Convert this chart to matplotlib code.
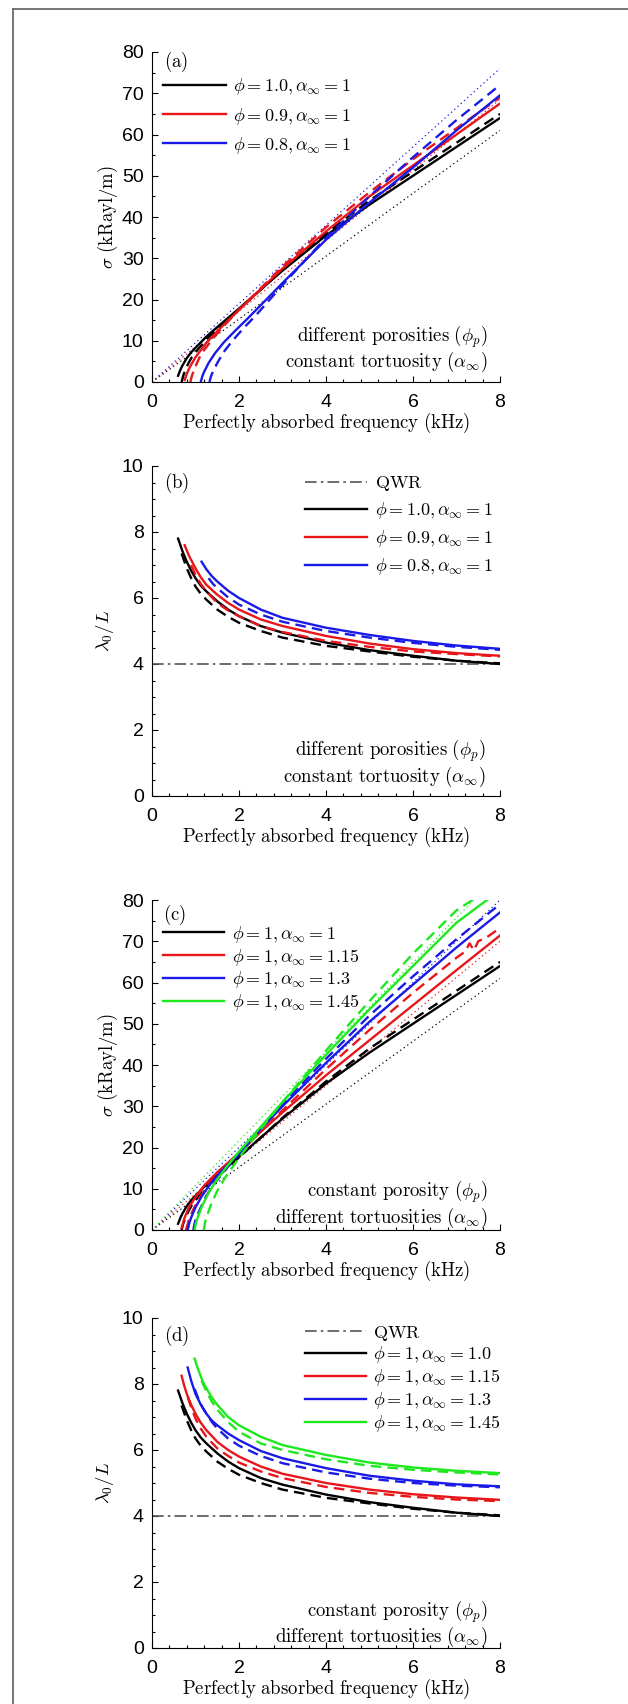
import matplotlib.pyplot as plt
from matplotlib.lines import Line2D
from matplotlib.ticker import MultipleLocator

plt.rcParams['mathtext.fontset'] = 'cm'
plt.rcParams['font.family'] = 'Liberation Sans'

# ---------- data ----------
# (a) sigma vs frequency, different porosities
a_k_f = [0.6, 0.65, 0.7, 0.8, 0.9, 1.0, 1.25, 1.5, 2, 3, 4, 5, 6, 7, 8]
a_k_s = [1.5, 2.9, 4.0, 5.8, 7.2, 8.3, 11, 13.3, 17.8, 27, 35.5, 43, 50, 57, 64]
a_kd_f = [0.68, 0.72, 0.78, 0.85, 0.92, 1.0, 1.25, 1.5, 2, 3, 4, 5, 6, 7, 8]
a_kd_s = [0, 1.6, 3.3, 4.8, 6.1, 7.2, 10.3, 12.8, 17.6, 27.2, 36, 44, 51, 58, 65]
a_r_f = [0.75, 0.8, 0.85, 0.9, 1.0, 1.1, 1.25, 1.5, 2, 3, 4, 5, 6, 7, 8]
a_r_s = [0.5, 2.0, 3.2, 4.2, 6.0, 7.4, 9.5, 12.3, 17.5, 27.5, 36.5, 45, 52.5, 60, 67.5]
a_rd_f = [0.88, 0.92, 0.98, 1.05, 1.12, 1.2, 1.4, 1.6, 2, 3, 4, 5, 6, 7, 8]
a_rd_s = [0, 1.6, 3.3, 5.0, 6.5, 7.8, 10.5, 13, 17.5, 28, 37.5, 46, 54, 61.5, 69]
a_b_f = [1.12, 1.16, 1.2, 1.3, 1.45, 1.65, 1.9, 2.2, 3, 4, 5, 6, 7, 8]
a_b_s = [0, 1.5, 2.5, 4.6, 7.0, 9.6, 12.3, 15.4, 24, 34.5, 43.5, 52, 61, 69.5]
a_bd_f = [1.32, 1.36, 1.4, 1.5, 1.65, 1.85, 2.1, 2.4, 3, 4, 5, 6, 7, 8]
a_bd_s = [0, 1.5, 2.5, 4.6, 7.3, 10, 13, 16.3, 23.5, 35, 45, 54.5, 63.5, 72]
a_dot_f = [0, 8]
a_dot_k = [0, 61]
a_dot_r = [0, 68.5]
a_dot_b = [0, 76]
a_labels = [r'$\phi = 1.0, \alpha_\infty = 1$',
            r'$\phi = 0.9, \alpha_\infty = 1$',
            r'$\phi = 0.8, \alpha_\infty = 1$']

# (b) lambda0/L vs frequency, different porosities
b_k_f = [0.6, 0.7, 0.8, 0.9, 1.0, 1.12, 1.25, 1.5, 1.75, 2, 2.5, 3, 4, 5, 6, 7, 8]
b_k_y = [7.8, 7.42, 7.1, 6.83, 6.6, 6.38, 6.2, 5.9, 5.65, 5.45, 5.15, 4.95, 4.65, 4.42, 4.25, 4.1, 4.0]
b_kd_f = [0.68, 0.8, 0.9, 1.0, 1.12, 1.25, 1.5, 1.75, 2, 2.5, 3, 4, 5, 6, 7, 8]
b_kd_y = [7.35, 6.9, 6.6, 6.35, 6.13, 5.95, 5.65, 5.43, 5.25, 5.0, 4.8, 4.55, 4.38, 4.22, 4.1, 4.02]
b_r_f = [0.75, 0.85, 1.0, 1.12, 1.25, 1.5, 1.75, 2, 2.5, 3, 4, 5, 6, 7, 8]
b_r_y = [7.6, 7.28, 6.9, 6.63, 6.4, 6.1, 5.85, 5.65, 5.35, 5.15, 4.85, 4.62, 4.45, 4.33, 4.25]
b_rd_f = [0.9, 1.0, 1.12, 1.25, 1.5, 1.75, 2, 2.5, 3, 4, 5, 6, 7, 8]
b_rd_y = [7.0, 6.7, 6.43, 6.2, 5.85, 5.62, 5.45, 5.15, 4.97, 4.7, 4.52, 4.38, 4.3, 4.23]
b_b_f = [1.14, 1.25, 1.37, 1.5, 1.75, 2, 2.5, 3, 4, 5, 6, 7, 8]
b_b_y = [7.1, 6.87, 6.67, 6.5, 6.22, 6.0, 5.65, 5.4, 5.1, 4.88, 4.7, 4.56, 4.46]
b_bd_f = [1.3, 1.4, 1.5, 1.75, 2, 2.5, 3, 4, 5, 6, 7, 8]
b_bd_y = [6.6, 6.43, 6.3, 6.02, 5.8, 5.5, 5.28, 5.0, 4.8, 4.64, 4.52, 4.43]
qwr_f = [0, 8]
qwr_y = [4, 4]

# (c) sigma vs frequency, different tortuosities
c_r_f = [0.68, 0.75, 0.85, 1.0, 1.2, 1.5, 2, 2.5, 3, 4, 5, 6, 7, 8]
c_r_s = [0.5, 3, 5.5, 8, 10.8, 14, 18.7, 23.8, 28.5, 37.5, 46, 54.5, 63, 71.4]
c_rd_f = [0.78, 0.85, 0.95, 1.1, 1.3, 1.6, 2, 2.5, 3, 4, 5, 6, 7, 7.2, 7.3, 7.4, 7.5, 7.7, 8]
c_rd_s = [0, 2.5, 5, 8, 11, 14.5, 18.5, 24, 29, 39, 48.5, 57.5, 66, 67.5, 69.5, 67.8, 70, 71, 73.2]
c_b_f = [0.82, 0.86, 0.9, 1.0, 1.15, 1.35, 1.6, 2, 2.5, 3, 4, 5, 6, 7, 8]
c_b_s = [0, 1.8, 3, 5.5, 8.3, 11.3, 14.3, 18.5, 24.5, 30, 40.5, 50.5, 59.5, 68.5, 77]
c_bd_f = [0.95, 0.98, 1.0, 1.1, 1.25, 1.45, 1.7, 2, 2.5, 3, 4, 5, 6, 7, 8]
c_bd_s = [0, 1.6, 2.5, 5, 8.3, 11.5, 14.8, 18.3, 24.8, 30.5, 41.5, 52, 61.5, 70.5, 79]
c_g_f = [0.98, 1.01, 1.05, 1.15, 1.3, 1.5, 1.75, 2, 2.5, 3, 4, 5, 6, 7, 7.7]
c_g_s = [0, 1.7, 3, 5.8, 9, 12.3, 15.8, 19, 25, 31, 42.5, 53.5, 64, 74.5, 80]
c_gd_f = [1.19, 1.22, 1.25, 1.35, 1.5, 1.7, 2, 2.5, 3, 4, 5, 6, 7, 7.37]
c_gd_s = [0, 1.8, 3, 6, 9.5, 13, 17.5, 24.5, 31, 43.5, 55.5, 67, 77.5, 80]
c_dot_r_f = [0, 8]
c_dot_r = [0, 70]
c_dot_b_f = [0, 8]
c_dot_b = [0, 80]
c_dot_g_f = [0, 7.4]
c_dot_g = [0, 80]
c_labels = [r'$\phi = 1, \alpha_\infty = 1$',
            r'$\phi = 1, \alpha_\infty = 1.15$',
            r'$\phi = 1, \alpha_\infty = 1.3$',
            r'$\phi = 1, \alpha_\infty = 1.45$']

# (d) lambda0/L vs frequency, different tortuosities
d_r_f = [0.68, 0.74, 0.8, 0.9, 1.0, 1.12, 1.25, 1.5, 1.75, 2, 2.5, 3, 4, 5, 6, 7, 8]
d_r_y = [8.25, 7.95, 7.7, 7.37, 7.1, 6.83, 6.6, 6.25, 6.0, 5.8, 5.5, 5.28, 5.0, 4.8, 4.66, 4.56, 4.49]
d_rd_f = [0.82, 0.9, 1.0, 1.12, 1.25, 1.5, 1.75, 2, 2.5, 3, 4, 5, 6, 7, 8]
d_rd_y = [7.6, 7.3, 6.95, 6.65, 6.4, 6.05, 5.82, 5.62, 5.35, 5.15, 4.88, 4.7, 4.58, 4.5, 4.45]
d_b_f = [0.82, 0.86, 0.9, 1.0, 1.12, 1.25, 1.37, 1.5, 1.75, 2, 2.5, 3, 4, 5, 6, 7, 8]
d_b_y = [8.5, 8.3, 8.1, 7.7, 7.38, 7.1, 6.9, 6.75, 6.5, 6.3, 5.97, 5.75, 5.45, 5.22, 5.07, 4.96, 4.9]
d_bd_f = [0.98, 1.04, 1.1, 1.17, 1.25, 1.37, 1.5, 1.75, 2, 2.5, 3, 4, 5, 6, 7, 8]
d_bd_y = [7.85, 7.64, 7.45, 7.27, 7.1, 6.86, 6.65, 6.35, 6.13, 5.82, 5.6, 5.32, 5.13, 5.0, 4.92, 4.87]
d_g_f = [0.98, 1.04, 1.1, 1.17, 1.25, 1.37, 1.5, 1.75, 2, 2.5, 3, 4, 5, 6, 7, 8]
d_g_y = [8.77, 8.52, 8.3, 8.07, 7.87, 7.6, 7.37, 7.0, 6.75, 6.4, 6.15, 5.85, 5.62, 5.47, 5.37, 5.3]
d_gd_f = [1.14, 1.2, 1.27, 1.37, 1.5, 1.75, 2, 2.5, 3, 4, 5, 6, 7, 8]
d_gd_y = [8.1, 7.92, 7.72, 7.48, 7.22, 6.85, 6.55, 6.2, 6.0, 5.72, 5.52, 5.4, 5.32, 5.26]
d_labels = [r'$\phi = 1, \alpha_\infty = 1.0$',
            r'$\phi = 1, \alpha_\infty = 1.15$',
            r'$\phi = 1, \alpha_\infty = 1.3$',
            r'$\phi = 1, \alpha_\infty = 1.45$']

# ---------- styles ----------
K = 'black'
R = '#e8161b'
B = '#1a1ae8'
G = '#1ee81e'
LW = 1.7
DASH = (0, (4.5, 2.6))
DOT = (0, (1, 2.5))
QWR_STYLE = (0, (7, 2.5, 1.5, 2.5))
XLAB = r'$\mathrm{Perfectly\ absorbed\ frequency\ (kHz)}$'
SIG_LAB = r'$\sigma\ \mathrm{(kRayl/m)}$'
LAM_LAB = r'$\lambda_0/L$'
FS = 13.5
LEG_FS = 13

W, H = 628, 1704
fig = plt.figure(figsize=(W / 100, H / 100), dpi=100)

# frame of the figure (left and top only, as in the scan)
fig.add_artist(Line2D([13 / W, 13 / W], [0, 1 - 9 / H], color='#6a6a6a', lw=1.3))
fig.add_artist(Line2D([13 / W, 1], [1 - 9 / H, 1 - 9 / H], color='#6a6a6a', lw=1.3))

tops = [52, 466, 900, 1318]
ax_h = 330


def make_ax(top, ymax, ymaj, ymin, ylab, ylab_x):
    ax = fig.add_axes([152 / W, 1 - (top + ax_h) / H, 348 / W, ax_h / H])
    ax.set_xlim(0, 8)
    ax.set_ylim(0, ymax)
    ax.xaxis.set_major_locator(MultipleLocator(2))
    ax.xaxis.set_minor_locator(MultipleLocator(0.4))
    ax.yaxis.set_major_locator(MultipleLocator(ymaj))
    ax.yaxis.set_minor_locator(MultipleLocator(ymin))
    ax.tick_params(which='both', direction='in', width=0.8, labelsize=14)
    ax.tick_params(axis='x', which='major', length=4.5, pad=8.5)
    ax.tick_params(axis='y', which='major', length=4.5, pad=6)
    ax.tick_params(which='minor', length=2.5)
    ax.spines['top'].set_visible(False)
    ax.spines['right'].set_visible(False)
    ax.set_xlabel(XLAB, fontsize=FS, labelpad=0)
    ax.set_ylabel(ylab, fontsize=FS, va='center')
    ax.yaxis.set_label_coords(ylab_x, 0.5)
    return ax


def note(ax, l1, l2, y, x=0.965):
    ax.text(x, y, l1 + '\n' + l2, transform=ax.transAxes, ha='right', va='center',
            fontsize=FS, linespacing=1.0)


def legend(ax, handles, labels, x, y, spacing, hlen):
    ax.legend(handles, labels, loc='upper left', bbox_to_anchor=(x, y),
              frameon=False, fontsize=LEG_FS, handlelength=hlen, handletextpad=0.42,
              labelspacing=spacing, borderpad=0, borderaxespad=0)


# ---------- (a) ----------
ax = make_ax(tops[0], 80, 10, 5, SIG_LAB, -0.128)
ax.plot(a_dot_f, a_dot_k, color=K, lw=0.9, ls=DOT)
ax.plot(a_dot_f, a_dot_r, color=R, lw=0.9, ls=DOT)
ax.plot(a_dot_f, a_dot_b, color=B, lw=0.9, ls=DOT)
h1, = ax.plot(a_k_f, a_k_s, color=K, lw=LW)
ax.plot(a_kd_f, a_kd_s, color=K, lw=LW, ls=DASH)
h2, = ax.plot(a_r_f, a_r_s, color=R, lw=LW)
ax.plot(a_rd_f, a_rd_s, color=R, lw=LW, ls=DASH)
h3, = ax.plot(a_b_f, a_b_s, color=B, lw=LW)
ax.plot(a_bd_f, a_bd_s, color=B, lw=LW, ls=DASH)
ax.text(0.07, 0.97, r'$\mathrm{(a)}$', transform=ax.transAxes, ha='center', va='center', fontsize=FS)
legend(ax, [h1, h2, h3], a_labels, 0.033, 0.926, 0.45, 3.45)
note(ax, r'$\mathrm{different\ porosities}\ (\phi_p)$',
     r'$\mathrm{constant\ tortuosity}\ (\alpha_\infty)$', 0.10)

# ---------- (b) ----------
ax = make_ax(tops[1], 10, 2, 0.5, LAM_LAB, -0.134)
hq, = ax.plot(qwr_f, qwr_y, color='#555555', lw=1.2, ls=QWR_STYLE)
h1, = ax.plot(b_k_f, b_k_y, color=K, lw=LW)
ax.plot(b_kd_f, b_kd_y, color=K, lw=LW, ls=DASH)
h2, = ax.plot(b_r_f, b_r_y, color=R, lw=LW)
ax.plot(b_rd_f, b_rd_y, color=R, lw=LW, ls=DASH)
h3, = ax.plot(b_b_f, b_b_y, color=B, lw=LW)
ax.plot(b_bd_f, b_bd_y, color=B, lw=LW, ls=DASH)
ax.text(0.07, 0.95, r'$\mathrm{(b)}$', transform=ax.transAxes, ha='center', va='center', fontsize=FS)
legend(ax, [hq, h1, h2, h3], [r'$\mathrm{QWR}$'] + a_labels, 0.44, 0.975, 0.38, 3.45)
note(ax, r'$\mathrm{different\ porosities}\ (\phi_p)$',
     r'$\mathrm{constant\ tortuosity}\ (\alpha_\infty)$', 0.099, x=0.958)

# ---------- (c) ----------
ax = make_ax(tops[2], 80, 10, 5, SIG_LAB, -0.128)
ax.plot(a_dot_f, a_dot_k, color=K, lw=0.9, ls=DOT)
ax.plot(c_dot_r_f, c_dot_r, color=R, lw=0.9, ls=DOT)
ax.plot(c_dot_b_f, c_dot_b, color=B, lw=0.9, ls=DOT)
ax.plot(c_dot_g_f, c_dot_g, color=G, lw=0.9, ls=DOT)
h1, = ax.plot(a_k_f, a_k_s, color=K, lw=LW)
ax.plot(a_kd_f, a_kd_s, color=K, lw=LW, ls=DASH)
h2, = ax.plot(c_r_f, c_r_s, color=R, lw=LW)
ax.plot(c_rd_f, c_rd_s, color=R, lw=LW, ls=DASH)
h3, = ax.plot(c_b_f, c_b_s, color=B, lw=LW)
ax.plot(c_bd_f, c_bd_s, color=B, lw=LW, ls=DASH)
h4, = ax.plot(c_g_f, c_g_s, color=G, lw=LW)
ax.plot(c_gd_f, c_gd_s, color=G, lw=LW, ls=DASH)
ax.text(0.064, 0.955, r'$\mathrm{(c)}$', transform=ax.transAxes, ha='center', va='center', fontsize=FS)
legend(ax, [h1, h2, h3, h4], c_labels, 0.033, 0.928, 0.1, 3.35)
note(ax, r'$\mathrm{constant\ porosity}\ (\phi_p)$',
     r'$\mathrm{different\ tortuosities}\ (\alpha_\infty)$', 0.078)

# ---------- (d) ----------
ax = make_ax(tops[3], 10, 2, 0.5, LAM_LAB, -0.134)
hq, = ax.plot(qwr_f, qwr_y, color='#555555', lw=1.2, ls=QWR_STYLE)
h1, = ax.plot(b_k_f, b_k_y, color=K, lw=LW)
ax.plot(b_kd_f, b_kd_y, color=K, lw=LW, ls=DASH)
h2, = ax.plot(d_r_f, d_r_y, color=R, lw=LW)
ax.plot(d_rd_f, d_rd_y, color=R, lw=LW, ls=DASH)
h3, = ax.plot(d_b_f, d_b_y, color=B, lw=LW)
ax.plot(d_bd_f, d_bd_y, color=B, lw=LW, ls=DASH)
h4, = ax.plot(d_g_f, d_g_y, color=G, lw=LW)
ax.plot(d_gd_f, d_gd_y, color=G, lw=LW, ls=DASH)
ax.text(0.07, 0.945, r'$\mathrm{(d)}$', transform=ax.transAxes, ha='center', va='center', fontsize=FS)
legend(ax, [hq, h1, h2, h3, h4], [r'$\mathrm{QWR}$'] + d_labels, 0.44, 0.983, 0.1, 3.35)
note(ax, r'$\mathrm{constant\ porosity}\ (\phi_p)$',
     r'$\mathrm{different\ tortuosities}\ (\alpha_\infty)$', 0.073)

fig.savefig('out.png', dpi=100)
